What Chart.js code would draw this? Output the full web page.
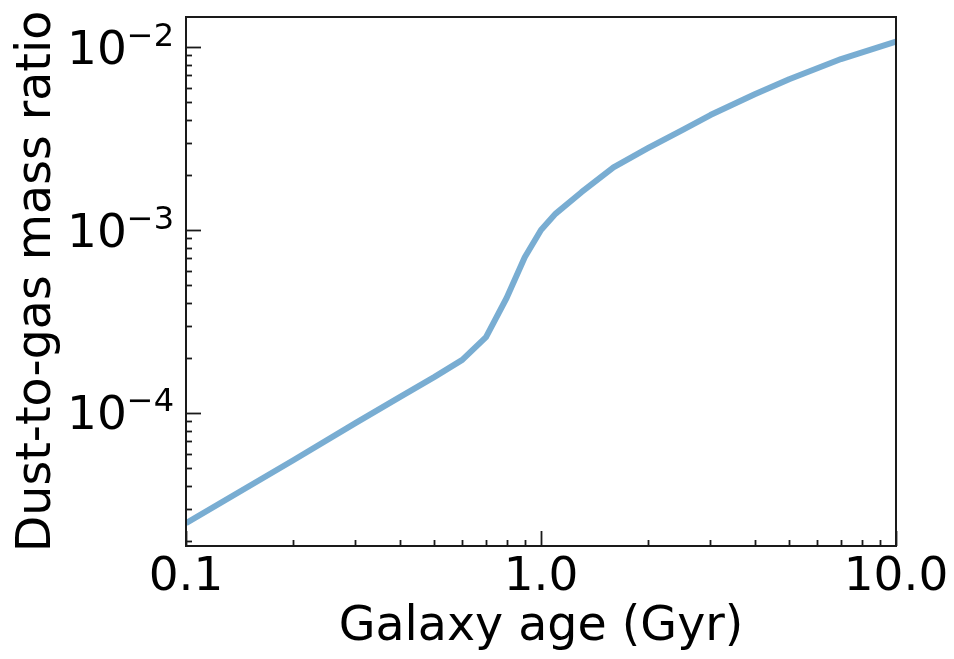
<!DOCTYPE html>
<html>
<head>
<meta charset="utf-8">
<script src="https://cdn.jsdelivr.net/npm/chart.js@4/dist/chart.umd.min.js"></script>
<style>
    html, body { margin: 0; padding: 0; background: #fff; }
    #wrap { width: 954px; height: 659px; }
</style>
</head>
<body>
<div id="wrap"><canvas id="chart" width="954" height="659"></canvas></div>
<script>
// galaxy age in Gyr and the dust-to-gas mass ratio at that age
const ages = [0.1, 0.2, 0.3, 0.4, 0.5, 0.6, 0.7, 0.8, 0.9, 1.0, 1.1, 1.3, 1.6, 2.0, 2.5, 3.0, 4.0, 5.0, 7.0, 10.0];
const dustToGas = [2.5e-5, 5.5e-5, 8.8e-5, 1.22e-4, 1.57e-4, 1.95e-4, 2.6e-4, 4.25e-4, 7.1e-4, 1.0e-3,
    1.23e-3, 1.61e-3, 2.2e-3, 2.8e-3, 3.52e-3, 4.25e-3, 5.52e-3, 6.67e-3, 8.6e-3, 1.07e-2];

const xTickValues = [0.1, 1, 10];
const xTickLabels = ['0.1', '1.0', '10.0'];
const yTickExponents = [-4, -3, -2];

const xRange = [0.1, 10];
const yRange = [1.875e-5, 0.0146];

const FONT = '"DejaVu Sans", sans-serif';
const INK = '#1a1a1a';

// matplotlib-style frame: inward ticks on left and bottom, mathtext-ish labels
const axesPlugin = {
    id: 'mplAxes',
    afterDraw(chart) {
        const ctx = chart.ctx;
        const area = chart.chartArea;
        const xs = chart.scales.x;
        const ys = chart.scales.y;

        ctx.save();
        ctx.strokeStyle = INK;
        ctx.lineWidth = 2;
        ctx.strokeRect(area.left, area.top, area.right - area.left, area.bottom - area.top);

        function tickX(v, len) {
            const px = Math.round(xs.getPixelForValue(v)) + 0.5;
            if (px < area.left - 0.5 || px > area.right + 0.5) return;
            ctx.beginPath();
            ctx.moveTo(px, area.bottom);
            ctx.lineTo(px, area.bottom - len);
            ctx.stroke();
        }
        function tickY(v, len) {
            const py = Math.round(ys.getPixelForValue(v)) + 0.5;
            if (py < area.top - 0.5 || py > area.bottom + 0.5) return;
            ctx.beginPath();
            ctx.moveTo(area.left, py);
            ctx.lineTo(area.left + len, py);
            ctx.stroke();
        }

        ctx.lineWidth = 1.8;
        for (let e = -2; e <= 1; e++) {
            for (let k = 1; k <= 9; k++) {
                tickX(k * Math.pow(10, e), k === 1 ? 15 : 6);
            }
        }
        for (let e = -6; e <= -1; e++) {
            for (let k = 1; k <= 9; k++) {
                tickY(k * Math.pow(10, e), k === 1 ? 15 : 6);
            }
        }

        ctx.fillStyle = '#000';
        ctx.textBaseline = 'alphabetic';

        // x tick labels
        ctx.font = '47px ' + FONT;
        ctx.textAlign = 'center';
        xTickValues.forEach((v, i) => {
            ctx.fillText(xTickLabels[i], xs.getPixelForValue(v), 590);
        });

        // y tick labels as 10 with a raised exponent
        yTickExponents.forEach((e) => {
            const py = ys.getPixelForValue(Math.pow(10, e));
            const base = '10';
            const sup = '\u2212' + Math.abs(e);
            ctx.font = '47px ' + FONT;
            const wBase = ctx.measureText(base).width;
            ctx.font = '32px ' + FONT;
            const wSup = ctx.measureText(sup).width;
            const x0 = area.left - 12 - wBase - wSup;
            ctx.textAlign = 'left';
            ctx.font = '47px ' + FONT;
            ctx.fillText(base, x0, py + 16.5);
            ctx.font = '32px ' + FONT;
            ctx.fillText(sup, x0 + wBase, py - 1.5);
        });

        // axis titles
        ctx.font = '47.5px ' + FONT;
        ctx.textAlign = 'center';
        ctx.fillText('Galaxy age (Gyr)', (area.left + area.right) / 2, 640);

        ctx.translate(50, (area.top + area.bottom) / 2);
        ctx.rotate(-Math.PI / 2);
        ctx.fillText('Dust-to-gas mass ratio', 0, 0);
        ctx.restore();
    }
};

new Chart(document.getElementById('chart'), {
    type: 'line',
    data: {
        datasets: [{
            data: ages.map((a, i) => ({ x: a, y: dustToGas[i] })),
            borderColor: 'rgba(31, 119, 180, 0.6)',
            borderWidth: 6,
            pointRadius: 0,
            tension: 0,
            fill: false,
            clip: 0,
            borderJoinStyle: 'round',
            borderCapStyle: 'butt'
        }]
    },
    options: {
        responsive: false,
        animation: false,
        layout: { padding: { left: 186, right: 58, top: 17, bottom: 113 } },
        plugins: {
            legend: { display: false },
            tooltip: { enabled: false }
        },
        scales: {
            x: { type: 'logarithmic', min: xRange[0], max: xRange[1], display: false },
            y: { type: 'logarithmic', min: yRange[0], max: yRange[1], display: false }
        }
    },
    plugins: [axesPlugin]
});
</script>
</body>
</html>
